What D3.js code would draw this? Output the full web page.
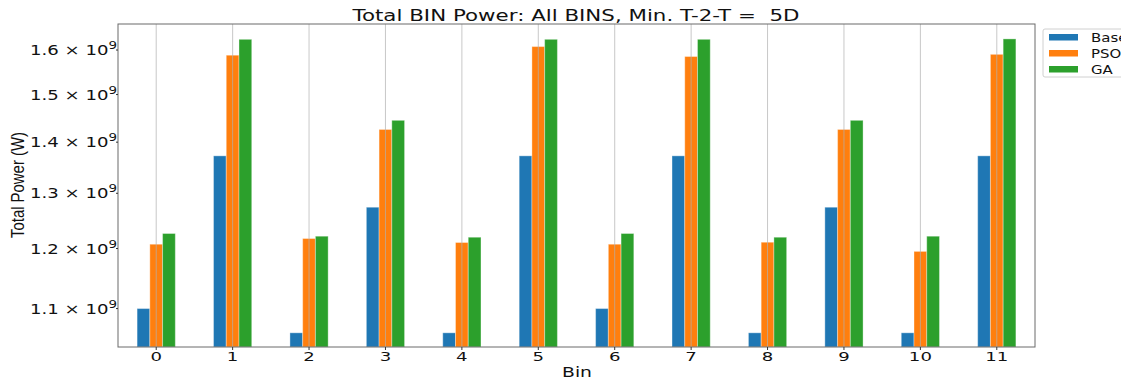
<!DOCTYPE html>
<html>
<head>
<meta charset="utf-8">
<script src="https://cdn.jsdelivr.net/npm/d3@7"></script>
<style>
  body { margin: 0; background: #fff; }
  svg { display: block; font-family: "DejaVu Sans", sans-serif; }
  text { white-space: pre; }
</style>
</head>
<body>
<script>
// bins and series (values in W)
var bins = ["0","1","2","3","4","5","6","7","8","9","10","11"];
var seriesNames = ["Base", "PSO", "GA"];
var base = [1.100e9, 1.3725e9, 1.062e9, 1.274e9, 1.062e9, 1.3725e9, 1.100e9, 1.3725e9, 1.062e9, 1.274e9, 1.062e9, 1.3725e9];
var pso  = [1.2075e9, 1.588e9, 1.2175e9, 1.426e9, 1.2105e9, 1.608e9, 1.2075e9, 1.585e9, 1.211e9, 1.426e9, 1.195e9, 1.590e9];
var ga   = [1.2264e9, 1.625e9, 1.2216e9, 1.445e9, 1.2198e9, 1.625e9, 1.2264e9, 1.625e9, 1.2198e9, 1.445e9, 1.2216e9, 1.626e9];
var yTicks = [1.1e9, 1.2e9, 1.3e9, 1.4e9, 1.5e9, 1.6e9];
var colors = ["#1f77b4", "#ff7f0e", "#2ca02c"];

var W = 1121, H = 381;
var mLeft = 118, mRight = 1035, mTop = 24, mBottom = 347;

var svg = d3.select("body").append("svg").attr("width", W).attr("height", H);

var x = d3.scaleBand().domain(bins).range([mLeft, mRight]);
var xs = d3.scaleBand().domain(seriesNames).range([x.bandwidth() * 0.25, x.bandwidth() * 0.75]);
var y = d3.scaleLog().domain([1.0404e9, 1.6615e9]).range([mBottom, mTop]);

var rows = bins.map(function(b, i){ return {bin: b, vals: [base[i], pso[i], ga[i]]}; });

// bars
var g = svg.append("g");
g.selectAll("g.bin").data(rows).enter().append("g")
    .attr("transform", function(d){ return "translate(" + x(d.bin) + ",0)"; })
    .selectAll("rect").data(function(d){ return d.vals.map(function(v, j){ return {v: v, s: seriesNames[j], c: colors[j]}; }); })
    .enter().append("rect")
    .attr("x", function(d){ return xs(d.s); })
    .attr("width", xs.bandwidth())
    .attr("y", function(d){ return y(d.v); })
    .attr("height", function(d){ return mBottom - y(d.v); })
    .attr("fill", function(d){ return d.c; })
    .attr("stroke", "#fff").attr("stroke-opacity", 0.35).attr("stroke-width", 1);

// vertical grid over bars
svg.append("g").selectAll("line").data(bins).enter().append("line")
    .attr("x1", function(d){ return x(d) + x.bandwidth() / 2; })
    .attr("x2", function(d){ return x(d) + x.bandwidth() / 2; })
    .attr("y1", mTop).attr("y2", mBottom)
    .attr("stroke", "#b0b0b0").attr("stroke-opacity", 0.7).attr("stroke-width", 1);

// frame
svg.append("rect").attr("x", mLeft).attr("y", mTop).attr("width", mRight - mLeft).attr("height", mBottom - mTop)
    .attr("fill", "none").attr("stroke", "#6a6a6a").attr("stroke-width", 1);

// x ticks
var xt = svg.append("g");
bins.forEach(function(b){
    var cx = x(b) + x.bandwidth() / 2;
    xt.append("line").attr("x1", cx).attr("x2", cx).attr("y1", mBottom).attr("y2", mBottom + 3).attr("stroke", "#333");
    xt.append("text").attr("transform", "translate(" + cx + ",361) scale(1.45,1)")
        .attr("text-anchor", "middle").attr("font-size", 12.5).attr("fill", "#111").text(b);
});

// y ticks (log, mathtext-like)
var yt = svg.append("g");
yTicks.forEach(function(t){
    var cy = y(t);
    yt.append("line").attr("x1", mLeft - 2).attr("x2", mLeft).attr("y1", cy).attr("y2", cy).attr("stroke", "#333");
    var txt = yt.append("text").attr("transform", "translate(" + (mLeft - 1) + "," + (cy + 5) + ") scale(1.34,1)")
        .attr("text-anchor", "end").attr("font-size", 13.5).attr("fill", "#111");
    txt.append("tspan").text((t / 1e9).toFixed(1) + " \u00d7 10");
    txt.append("tspan").attr("dy", -6).attr("font-size", 10).text("9");
});

// labels
svg.append("text").attr("x", 576).attr("y", 20.5).attr("text-anchor", "middle")
    .attr("font-size", 15.5).attr("textLength", 447).attr("lengthAdjust", "spacingAndGlyphs")
    .attr("fill", "#111").text("Total BIN Power: All BINS, Min. T-2-T =  5D");

svg.append("text").attr("x", 577).attr("y", 377).attr("text-anchor", "middle")
    .attr("font-size", 14).attr("textLength", 30).attr("lengthAdjust", "spacingAndGlyphs")
    .attr("fill", "#111").text("Bin");

svg.append("text").attr("transform", "translate(24,185) rotate(-90)").attr("text-anchor", "middle")
    .attr("font-family", "'Liberation Sans Narrow', 'Liberation Sans', sans-serif")
    .attr("font-size", 18).attr("textLength", 106).attr("lengthAdjust", "spacingAndGlyphs")
    .attr("fill", "#111").text("Total Power (W)");

// legend
var lg = svg.append("g").attr("transform", "translate(1043,29)");
lg.append("rect").attr("width", 100).attr("height", 48).attr("rx", 2)
    .attr("fill", "#fff").attr("stroke", "#d0d0d0");
seriesNames.forEach(function(s, i){
    lg.append("rect").attr("x", 6).attr("y", 5 + i * 16).attr("width", 29).attr("height", 6.5).attr("fill", colors[i]);
    lg.append("text").attr("transform", "translate(48," + (12.5 + i * 16) + ") scale(1.3,1)")
        .attr("font-size", 11.5).attr("fill", "#111").text(s);
});
</script>
</body>
</html>
